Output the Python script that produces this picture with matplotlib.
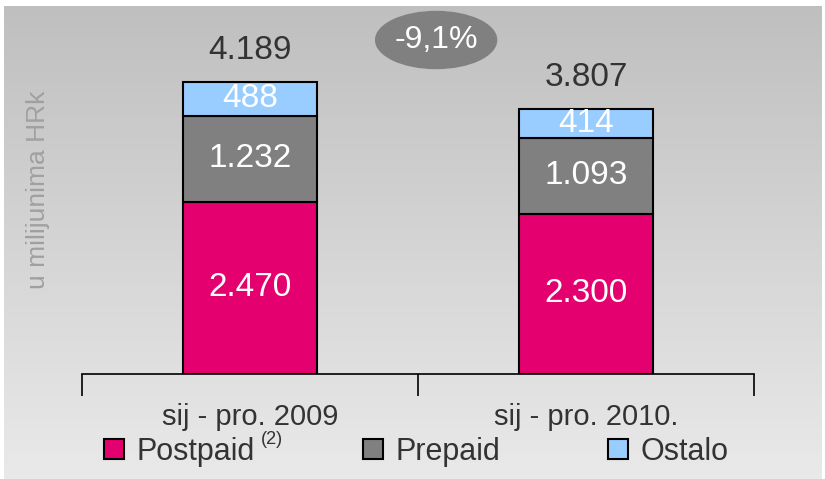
import numpy as np
import matplotlib.pyplot as plt
from matplotlib.patches import Ellipse

plt.rcParams['font.family'] = ['Liberation Sans', 'DejaVu Sans']

periods = ['sij - pro. 2009', 'sij - pro. 2010.']
postpaid = [2470, 2300]
prepaid = [1232, 1093]
ostalo = [488, 414]
totals = ['4.189', '3.807']
post_lbl = ['2.470', '2.300']
pre_lbl = ['1.232', '1.093']
ost_lbl = ['488', '414']
change = '-9,1%'

W, H = 825, 479
fig = plt.figure(figsize=(W / 100, H / 100), dpi=100)

# gradient background
bg = fig.add_axes([4 / W, 0, 1 - 7 / W, 1 - 6 / H])
grad = np.linspace(0, 1, 256).reshape(-1, 1)
top_c = np.array([0.75, 0.75, 0.75])
bot_c = np.array([0.915, 0.915, 0.915])
img = top_c + (bot_c - top_c) * grad
bg.imshow(img.reshape(256, 1, 3), aspect='auto', extent=[0, 1, 0, 1], origin='upper')
bg.axis('off')

px = 0.0697  # data units per pixel
ax = fig.add_axes([82 / W, 105 / H, (754 - 82) / W, (374 - 6) / H])
ax.patch.set_alpha(0)
ax.set_xlim(0, 2)
ax.set_ylim(0, (374 - 6) / px)

x = np.array([0.5, 1.5])
w = 0.4
c_post, c_pre, c_ost = '#E4006F', '#808080', '#99CCFF'
ax.bar(x, postpaid, w, color=c_post, edgecolor='black', lw=1.5, label='Postpaid')
ax.bar(x, prepaid, w, bottom=postpaid, color=c_pre, edgecolor='black', lw=1.5, label='Prepaid')
b2 = np.array(postpaid) + np.array(prepaid)
ax.bar(x, ostalo, w, bottom=b2, color=c_ost, edgecolor='black', lw=1.5, label='Ostalo')

for i in range(2):
    ax.text(x[i], postpaid[i] / 2, post_lbl[i], ha='center', va='center', color='white', fontsize=24)
    ax.text(x[i], postpaid[i] + prepaid[i] / 2, pre_lbl[i], ha='center', va='center',
            color='white', fontsize=24)
    ax.text(x[i], b2[i] + ostalo[i] / 2, ost_lbl[i], ha='center', va='center',
            color='white', fontsize=24)
    ax.text(x[i], b2[i] + ostalo[i] + 23 / px, totals[i], ha='center', va='baseline',
            color='#333333', fontsize=24)

ey = (374 - 40) / px
ell = Ellipse((1.054, ey), 0.36, 57 / px, color='#808080', zorder=3)
ax.add_patch(ell)
ax.text(1.054, ey, change, ha='center', va='center', color='white', fontsize=23, zorder=4)

for s in ['top', 'right', 'left']:
    ax.spines[s].set_visible(False)
ax.spines['bottom'].set_linewidth(1.2)
ax.set_yticks([])
ax.set_xticks([0, 1, 2])
ax.set_xticklabels([])
ax.tick_params(axis='x', direction='out', length=16, width=1.2)
for i in range(2):
    ax.text(x[i], -43 / px, periods[i], ha='center', va='center', fontsize=21, color='#333333')

fig.text(38 / W, 1 - 190 / H, 'u milijunima HRk', rotation=90, ha='center', va='center',
         fontsize=19, color='#a0a0a0')

ax.legend(loc='center left', bbox_to_anchor=(10 / 672, -78 / 368), ncol=3, frameon=False,
          fontsize=22, handlelength=0.65, handleheight=0.65, handletextpad=0.4,
          columnspacing=3.55, labelcolor='#333333', borderaxespad=0)
fig.text(261 / W, 1 - 439 / H, '(2)', ha='left', va='center', fontsize=13, color='#333333')

fig.savefig('out.png', dpi=100)
